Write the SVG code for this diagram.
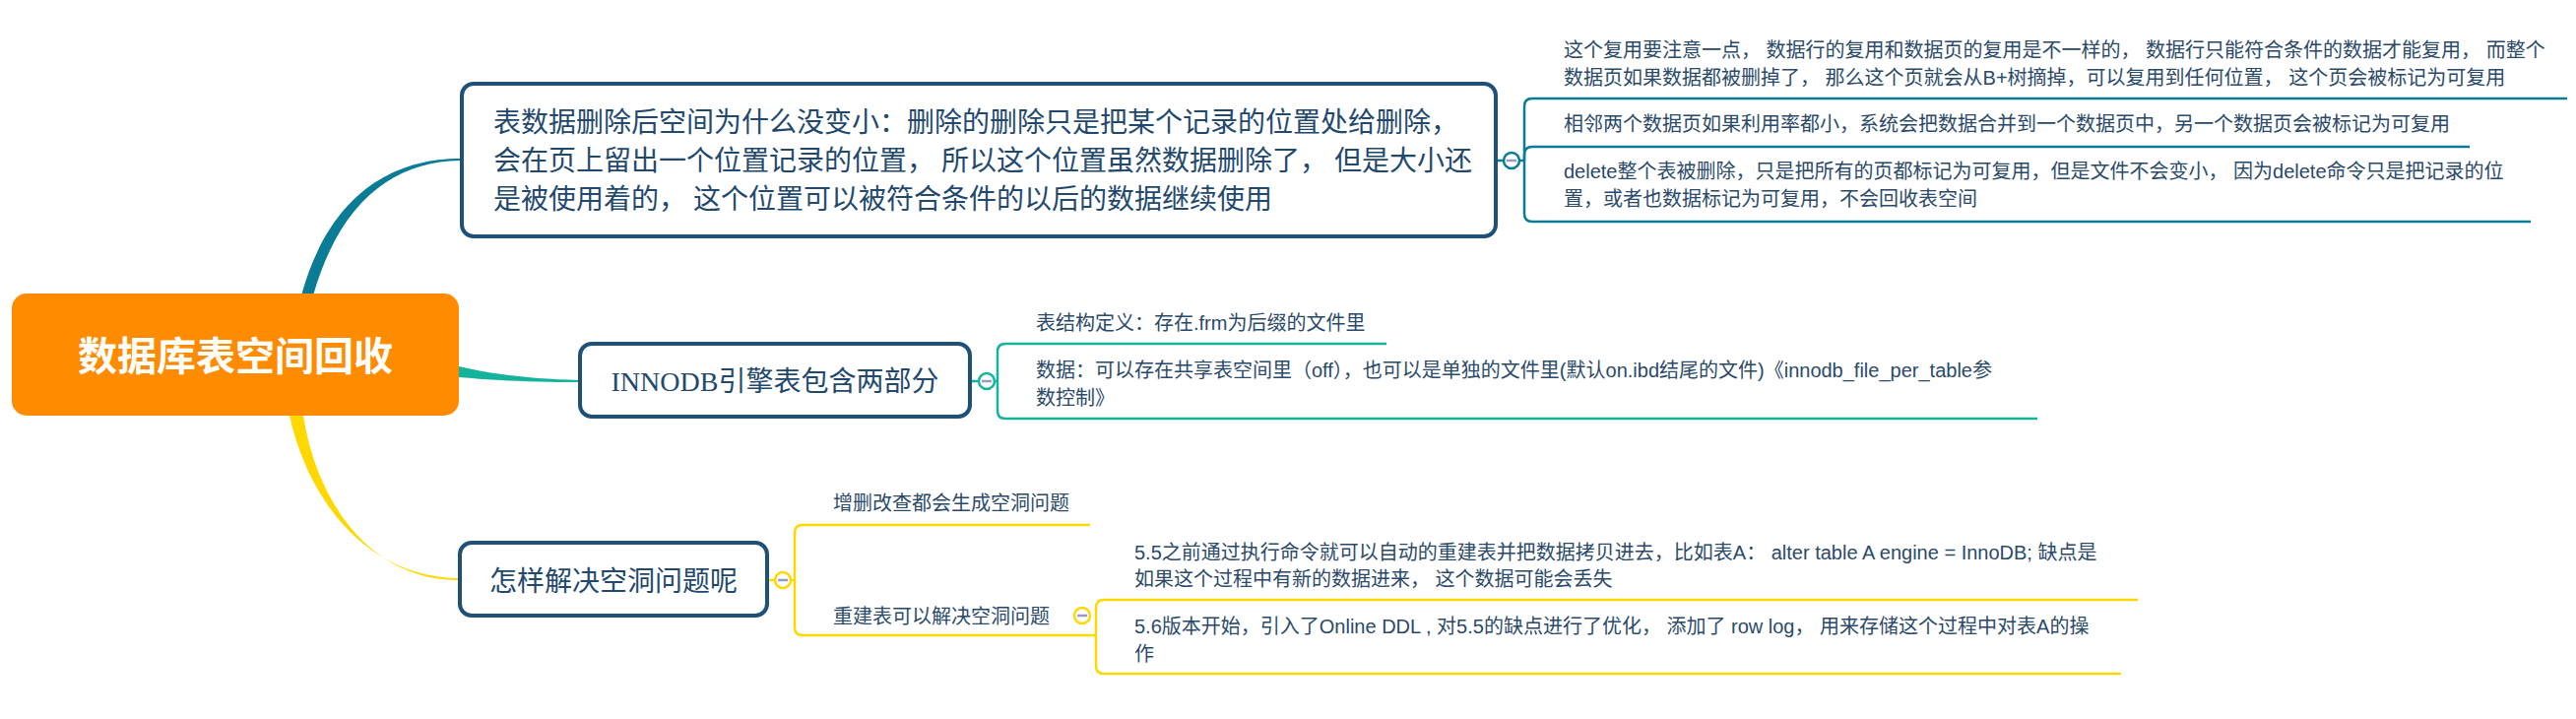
<svg xmlns="http://www.w3.org/2000/svg" width="2616" height="730" viewBox="0 0 2616 730">
<style>
.bg{fill:#ffffff}
.topic{fill:#ffffff;stroke:#1f5078;stroke-width:4}
.tt{font-family:"Liberation Serif","Noto Sans CJK SC",serif;font-size:28px;fill:#22496d}
.st{font-family:"Liberation Sans","Noto Sans CJK SC",sans-serif;font-size:20px;fill:#2b4a69}
.rt{font-family:"Noto Sans CJK SC","Liberation Sans",sans-serif;font-size:40px;font-weight:bold;fill:#ffffff}
.ln{fill:none;stroke-width:2.5}
.teal{stroke:#0b7c95}
.green{stroke:#14b39b}
.yel{stroke:#ffd800}
.btn{fill:#ffffff;stroke-width:2.5}
.minus{stroke:#9a9ac8;stroke-width:2.5}
</style>
<rect class="bg" x="0" y="0" width="2616" height="730"/>
<g id="connectors">
  <path d="M306,300 C334,198 398,161 467,161 L467,163 C402,164 346,202 318,300 Z" fill="#0b7c95"/>
  <path d="M466,372 C500,380 540,385 589,386 L589,388 C540,388 500,386 466,383 Z" fill="#14b39b"/>
  <path d="M294,422 C314,512 376,587 467,587 L467,589 C378,590 322,512 308,422 Z" fill="#ffd800"/>
  <path class="ln teal" d="M1521,163 H1527 M1543,163 H1548"/>
  <path class="ln teal" d="M1548,163 V108 Q1548,100 1556,100 H2607"/>
  <path class="ln teal" d="M1548,163 V157 Q1548,149 1556,149 H2508"/>
  <path class="ln teal" d="M1548,163 V217 Q1548,225 1556,225 H2570"/>
  <path class="ln green" d="M987,387 H993 M1010,387 H1013"/>
  <path class="ln green" d="M1013,387 V357 Q1013,349 1021,349 H1408"/>
  <path class="ln green" d="M1013,387 V417 Q1013,425 1021,425 H2069"/>
  <path class="ln yel" d="M781,589 H787 M803,589 H807"/>
  <path class="ln yel" d="M807,589 V541 Q807,533 815,533 H1107"/>
  <path class="ln yel" d="M807,589 V637 Q807,645 815,645 H1113"/>
  <path class="ln yel" d="M1113,645 V617 Q1113,609 1121,609 H2171"/>
  <path class="ln yel" d="M1113,645 V676 Q1113,684 1121,684 H2154"/>
</g>
<g id="root">
  <rect x="12" y="298" width="454" height="124" rx="15" fill="#ff8c00"/>
  <text class="rt" x="239" y="376" text-anchor="middle">数据库表空间回收</text>
</g>
<g id="topic1">
  <rect class="topic" x="469" y="85" width="1050" height="155" rx="12"/>
  <text class="tt" x="501" y="134">表数据删除后空间为什么没变小：删除的删除只是把某个记录的位置处给删除，</text>
  <text class="tt" x="501" y="173">会在页上留出一个位置记录的位置， 所以这个位置虽然数据删除了， 但是大小还</text>
  <text class="tt" x="501" y="212">是被使用着的， 这个位置可以被符合条件的以后的数据继续使用</text>
  <circle class="btn teal" cx="1535" cy="163" r="8"/>
  <line class="minus" x1="1530" y1="163" x2="1540" y2="163"/>
</g>
<g id="t1s1">
  <text class="st" x="1588" y="58">这个复用要注意一点， 数据行的复用和数据页的复用是不一样的， 数据行只能符合条件的数据才能复用， 而整个</text>
  <text class="st" x="1588" y="86">数据页如果数据都被删掉了， 那么这个页就会从B+树摘掉，可以复用到任何位置， 这个页会被标记为可复用</text>
</g>
<g id="t1s2">
  <text class="st" x="1588" y="133">相邻两个数据页如果利用率都小，系统会把数据合并到一个数据页中，另一个数据页会被标记为可复用</text>
</g>
<g id="t1s3">
  <text class="st" x="1588" y="181">delete整个表被删除，只是把所有的页都标记为可复用，但是文件不会变小， 因为delete命令只是把记录的位</text>
  <text class="st" x="1588" y="209">置，或者也数据标记为可复用，不会回收表空间</text>
</g>
<g id="topic2">
  <rect class="topic" x="589" y="349" width="396" height="74" rx="12"/>
  <text class="tt" x="787" y="397" text-anchor="middle">INNODB引擎表包含两部分</text>
  <circle class="btn green" cx="1002" cy="387" r="8"/>
  <line class="minus" x1="997" y1="387" x2="1007" y2="387"/>
</g>
<g id="t2s1">
  <text class="st" x="1052" y="335">表结构定义：存在.frm为后缀的文件里</text>
</g>
<g id="t2s2">
  <text class="st" x="1052" y="383">数据：可以存在共享表空间里（off），也可以是单独的文件里(默认on.ibd结尾的文件)《innodb_file_per_table参</text>
  <text class="st" x="1052" y="411">数控制》</text>
</g>
<g id="topic3">
  <rect class="topic" x="467" y="551" width="312" height="74" rx="12"/>
  <text class="tt" x="623" y="600" text-anchor="middle">怎样解决空洞问题呢</text>
  <circle class="btn yel" cx="795" cy="589" r="8"/>
  <line class="minus" x1="790" y1="589" x2="800" y2="589"/>
</g>
<g id="t3s1">
  <text class="st" x="846" y="518">增删改查都会生成空洞问题</text>
</g>
<g id="t3s2">
  <text class="st" x="846" y="633">重建表可以解决空洞问题</text>
  <circle class="btn yel" cx="1099" cy="625" r="8"/>
  <line class="minus" x1="1094" y1="625" x2="1104" y2="625"/>
</g>
<g id="t3s2a">
  <text class="st" x="1152" y="568">5.5之前通过执行命令就可以自动的重建表并把数据拷贝进去，比如表A： alter table A engine = InnoDB; 缺点是</text>
  <text class="st" x="1152" y="595">如果这个过程中有新的数据进来， 这个数据可能会丢失</text>
</g>
<g id="t3s2b">
  <text class="st" x="1152" y="643">5.6版本开始，引入了Online DDL , 对5.5的缺点进行了优化， 添加了 row log， 用来存储这个过程中对表A的操</text>
  <text class="st" x="1152" y="671">作</text>
</g>
</svg>
